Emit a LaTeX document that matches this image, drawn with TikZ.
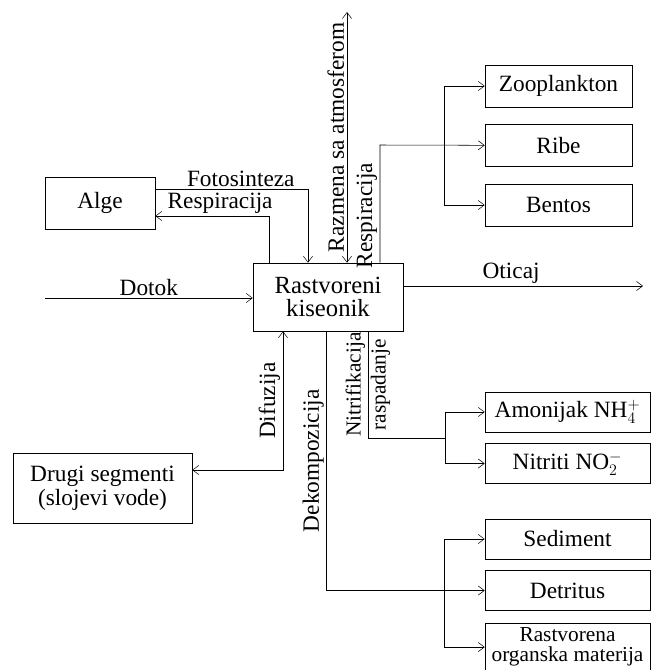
\documentclass[tikz,border=0pt]{standalone}
\usepackage{fontspec}
\setmainfont{Liberation Serif}
\usetikzlibrary{arrows.meta,positioning}

\begin{document}
\begin{tikzpicture}[
  x=0.75pt, y=-0.75pt,
  font=\fontsize{17.5}{18}\selectfont,
  box/.style={rectangle, draw, align=center, inner sep=1pt},
  sink/.style={box, minimum width=110.25pt, minimum height=31.5pt},
  prod/.style={box, minimum width=123.75pt, minimum height=30pt},
  arrow/.style={-{Straight Barb[length=1.6mm, width=2.4mm]}},
  both/.style={{Straight Barb[length=1.6mm, width=2.4mm]}-{Straight Barb[length=1.6mm, width=2.4mm]}},
  vlab/.style={rotate=90, anchor=south, inner sep=2pt},
  vlabr/.style={rotate=90, anchor=north, inner sep=2pt},
  hlab/.style={above, inner sep=1.5pt}]

\useasboundingbox (0,0) rectangle (651,670);

\node[box, minimum width=112.5pt, minimum height=51pt, font=\fontsize{18.5}{17.5}\selectfont] (kis) at (328,297) {Rastvoreni\\kiseonik};

\node[box, minimum width=82.5pt, minimum height=39pt] (alge) at (100,203) {Alge};
\node[box, minimum width=134.25pt, minimum height=52.5pt] (drugi) at (102.5,488) {Drugi segmenti\\(slojevi vode)};

\node[sink] (zoo) at (558.5,86) {Zooplankton};
\node[sink, below=12.75pt of zoo] (ribe) {Ribe};
\node[sink, below=12.75pt of ribe] (bentos) {Bentos};

\node[prod] (amon) at (567.5,412) {Amonijak NH$_4^+$};
\node[prod, below=8.25pt of amon] (nitr) {Nitriti NO$_2^-$};

\node[prod] (sed) at (567.5,539) {Sediment};
\node[prod, below=8.25pt of sed] (detr) {Detritus};
\node[prod, minimum height=36pt, below=9pt of detr, font=\fontsize{16}{15}\selectfont] (rast) {Rastvorena\\organska materija};

% bend points
\coordinate (in) at (45,298);
\coordinate (out) at (643,286);
\coordinate (fot) at (308,189);
\coordinate (res) at (269,216);
\coordinate (atm) at (347,12);
\coordinate (res2) at (380,145);
\coordinate (dif) at (283,470);
\coordinate (nit) at (368,438);
\coordinate (nbr) at (445,438);
\path (ribe.west) ++(-40,0) coordinate (zbr);
\path (detr.west) ++(-158,0) coordinate (dek);
\path (detr.west) ++(-40,0) coordinate (dbr);

% Arrows
\draw[arrow] (in) -- node[hlab]{Dotok} (in -| kis.west);
\draw[arrow] (out -| kis.east) -- node[hlab, pos=0.45]{Oticaj} (out);
\draw[arrow] (fot -| alge.east) -- node[hlab, pos=0.56]{Fotosinteza} (fot) -- (kis.north -| fot);
\draw[arrow] (kis.north -| res) -- (res) -- node[hlab, pos=0.43]{Respiracija} (res -| alge.east);
\draw[both] (kis.north -| atm) -- node[vlab]{Razmena sa atmosferom} (atm);
\draw[arrow] (kis.north -| res2) -- node[vlab, pos=0.4]{Respiracija} (res2) -- (ribe);
\draw[arrow] (zbr) |- (zoo);
\draw[arrow] (zbr) |- (bentos);

\draw[both] (dif -| drugi.east) -- (dif) -- node[vlab]{Difuzija} (kis.south -| dif);
\draw (kis.south -| nit) -- node[vlab, font=\fontsize{16}{16}\selectfont]{Nitrifikacija} node[vlabr, font=\fontsize{16}{16}\selectfont]{raspadanje} (nit) -- (nbr);
\draw[arrow] (nbr) |- (amon);
\draw[arrow] (nbr) |- (nitr);
\draw[arrow] (kis.south -| dek) -- node[vlab]{Dekompozicija} (dek) -- (detr);
\draw[arrow] (dbr) |- (sed);
\draw[arrow] (dbr) |- (rast);

\end{tikzpicture}
\end{document}
